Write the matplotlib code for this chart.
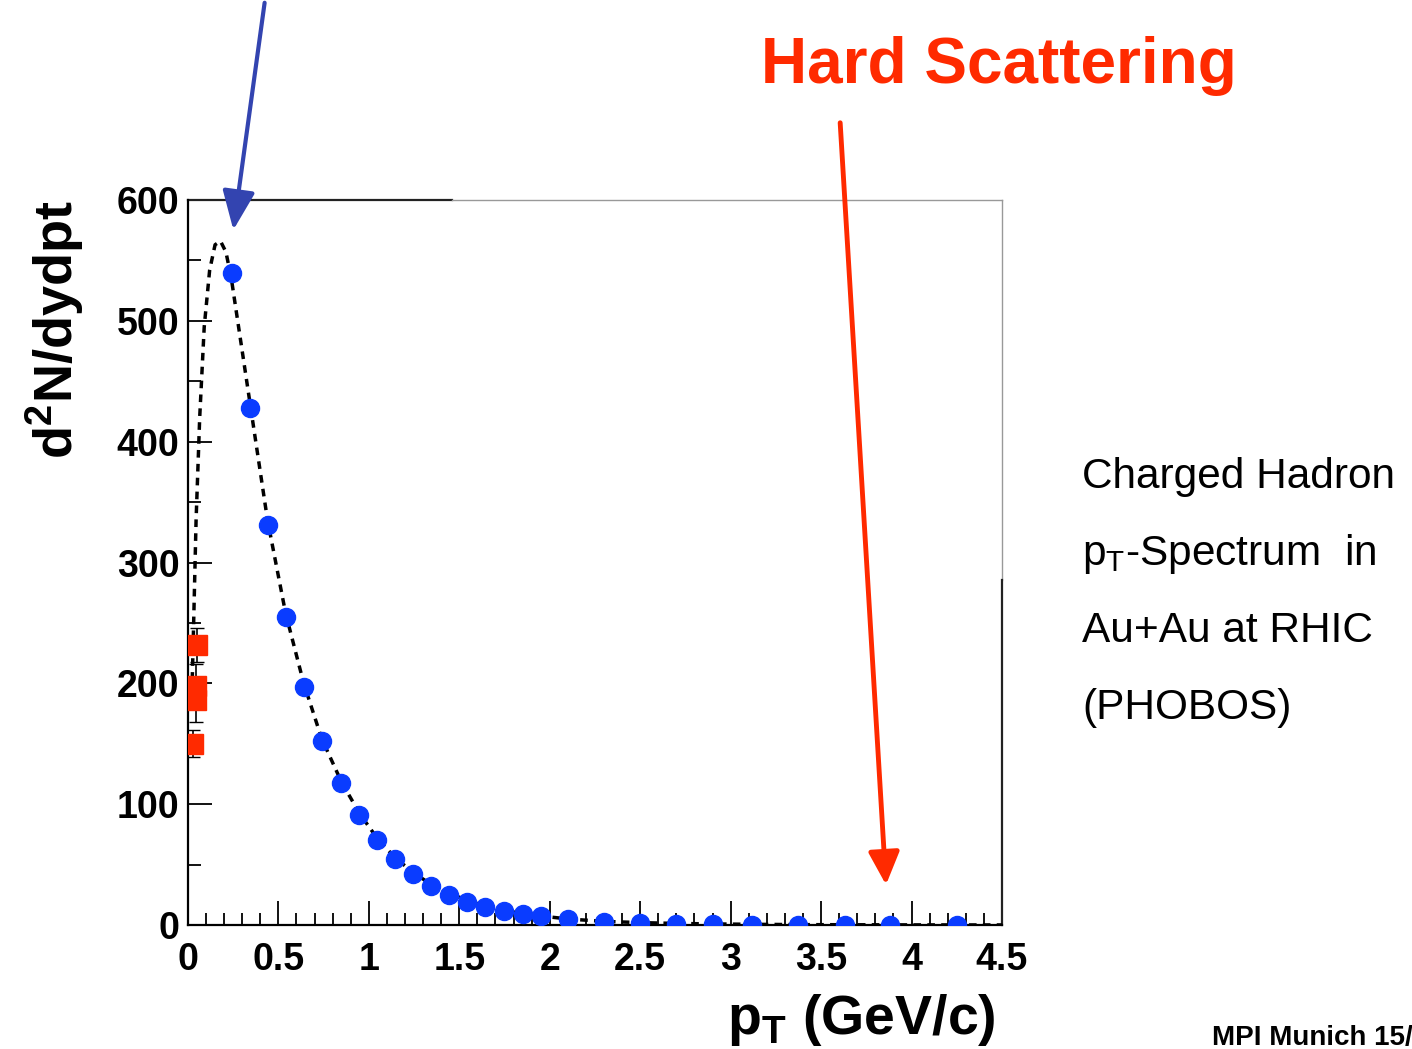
import matplotlib
matplotlib.use("Agg")
import matplotlib.pyplot as plt
from matplotlib.ticker import MultipleLocator

plt.rcParams["font.family"] = ["Liberation Sans", "DejaVu Sans"]
plt.rcParams["mathtext.fontset"] = "custom"
plt.rcParams["mathtext.rm"] = "Liberation Sans"
plt.rcParams["mathtext.bf"] = "Liberation Sans:bold"

# PHOBOS charged hadron spectrum (blue points)
pt_blue = [0.243, 0.343, 0.442, 0.542, 0.641, 0.741, 0.846, 0.945, 1.045, 1.144,
           1.244, 1.343, 1.443, 1.54, 1.64, 1.75, 1.85, 1.95, 2.10, 2.30,
           2.50, 2.70, 2.90, 3.12, 3.37, 3.63, 3.88, 4.25]
yield_blue = [540, 428, 331, 255, 197, 152, 117.5, 91, 70, 55,
              42, 32, 25, 19, 15, 11.6, 9, 7.4, 5, 2.5,
              1.6, 1.0, 0.7, 0.4, 0.3, 0.2, 0.1, 0.05]

# very low pT points (red squares)
pt_red = [0.05, 0.042, 0.042, 0.027]
yield_red = [232, 198, 186, 150]
err_red = [14, 18, 18, 11]

# fit curve (dashed)
pt_fit = [0.02, 0.03, 0.045, 0.065, 0.09, 0.12, 0.15, 0.18, 0.21, 0.24,
          0.28, 0.34, 0.44, 0.54, 0.64, 0.74, 0.85, 0.95, 1.05, 1.15,
          1.25, 1.35, 1.45, 1.55, 1.65, 1.75, 1.85, 1.95, 2.1, 2.3,
          2.5, 2.7, 2.9, 3.1, 3.4, 3.7, 4.0, 4.5]
yield_fit = [180, 240, 335, 420, 495, 542, 563, 566, 557, 535,
             495, 435, 335, 258, 200, 154, 118, 92, 71, 55,
             43, 33, 26, 20, 15.5, 12, 9.5, 7.5, 5, 3,
             2, 1.3, 0.9, 0.6, 0.3, 0.2, 0.1, 0.05]

blue = "#0a3cff"
red = "#ff2a00"

fig = plt.figure(figsize=(14.12, 10.49), dpi=100)
ax = fig.add_axes([0.1331, 0.1182, 0.5765, 0.6911])

ax.plot(pt_fit, yield_fit, color="black", lw=2.5, linestyle=(0, (2.2, 1.8)), zorder=3)
ax.plot(pt_blue, yield_blue, "o", color=blue, ms=13, mec=blue, zorder=4)
ax.errorbar(pt_red, yield_red, yerr=err_red, fmt="s", color=red, ms=14,
            ecolor="black", elinewidth=1.2, capsize=5, zorder=4)

ax.set_xlim(0, 4.5)
ax.set_ylim(0, 600)
ax.xaxis.set_major_locator(MultipleLocator(0.5))
ax.xaxis.set_minor_locator(MultipleLocator(0.1))
ax.yaxis.set_major_locator(MultipleLocator(100))
ax.yaxis.set_minor_locator(MultipleLocator(50))
ax.set_xticks([0, 0.5, 1, 1.5, 2, 2.5, 3, 3.5, 4, 4.5])
ax.set_xticklabels(["0", "0.5", "1", "1.5", "2", "2.5", "3", "3.5", "4", "4.5"])
ax.tick_params(which="both", direction="in", top=False, right=False, width=1.3)
ax.tick_params(which="major", length=17, labelsize=27, pad=6)
ax.tick_params(which="minor", length=9)
ax.tick_params(axis="x", which="major", pad=12)
for lab in ax.get_xticklabels() + ax.get_yticklabels():
    lab.set_fontweight("bold")

for s in ["left", "bottom"]:
    ax.spines[s].set_linewidth(1.6)
ax.spines["top"].set_visible(False)
ax.spines["right"].set_visible(False)
# odd partial frame of the slide
ax.plot([0, 0.324], [1, 1], transform=ax.transAxes, color="#222222", lw=1.6, clip_on=False)
ax.plot([0.324, 1], [1, 1], transform=ax.transAxes, color="#999999", lw=1.0, clip_on=False)
ax.plot([1, 1], [1, 0.476], transform=ax.transAxes, color="#999999", lw=1.0, clip_on=False)
ax.plot([1, 1], [0.476, 0], transform=ax.transAxes, color="#222222", lw=1.6, clip_on=False)

ax.set_ylabel(r"d$^{\mathbf{2}}$N/dydpt", fontsize=39, fontweight="bold", loc="top", labelpad=22)
ax.set_xlabel(r"p$_{\mathbf{T}}$ (GeV/c)", fontsize=40, fontweight="bold", loc="right", labelpad=10)
ax.xaxis.label.set_x(0.992)

# arrows
ax.annotate("", xy=(0.249, 573), xycoords="data",
            xytext=(265 / 1412, 1.0), textcoords="figure fraction",
            arrowprops=dict(arrowstyle="-|>,head_length=2.4,head_width=1.0",
                            color="#3344b0", lw=3), annotation_clip=False)
ax.annotate("", xy=(3.86, 31), xycoords="data",
            xytext=(840 / 1412, 1 - 120 / 1049), textcoords="figure fraction",
            arrowprops=dict(arrowstyle="-|>,head_length=2.0,head_width=0.95",
                            color=red, lw=3.5), annotation_clip=False)

fig.text(999 / 1412, 1 - 66 / 1049, "Hard Scattering", color=red, fontsize=46,
         fontweight="bold", ha="center", va="center")

side_lines = ["Charged Hadron", r"p$_{\mathrm{T}}$-Spectrum  in", "Au+Au at RHIC", "(PHOBOS)"]
for i, t in enumerate(side_lines):
    fig.text(1082 / 1412, 1 - (477 + 77 * i) / 1049, t, fontsize=30.5, ha="left", va="center")

fig.text(1212 / 1412, 1 - 1038 / 1049, "MPI Munich 15/", fontsize=20, fontweight="bold",
         ha="left", va="center")

fig.savefig("out.png", dpi=100)
